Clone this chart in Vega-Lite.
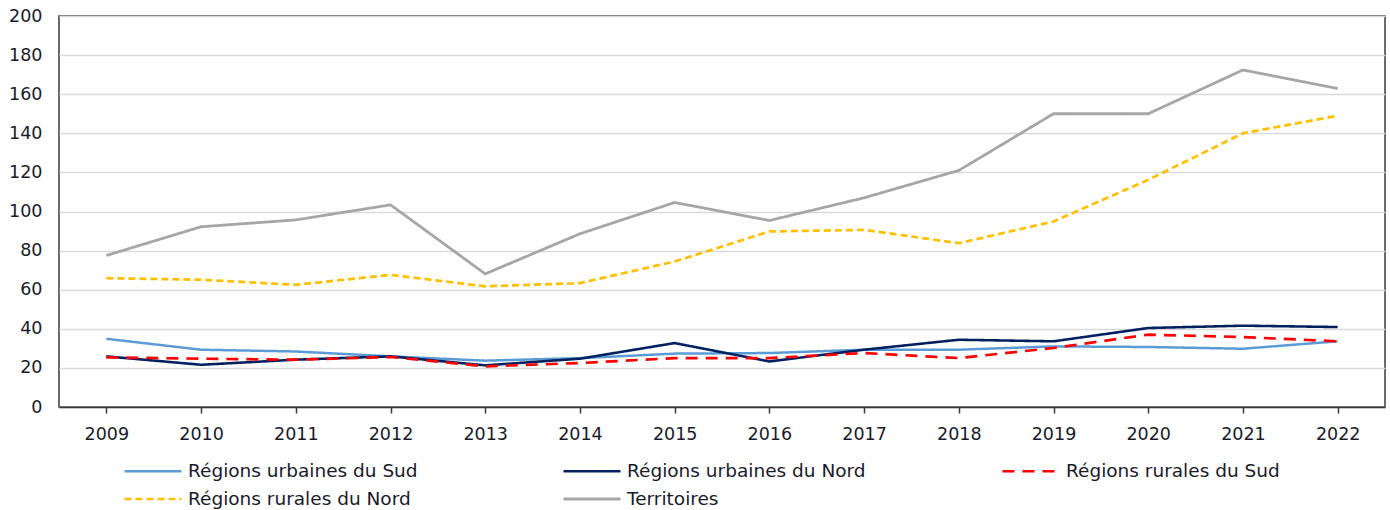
{
  "$schema": "https://vega.github.io/schema/vega-lite/v6.json",
  "width": 1326,
  "height": 391,
  "autosize": {"type": "none"},
  "padding": {"left": 59, "top": 16, "right": 5, "bottom": 103},
  "background": "white",
  "config": {
    "font": "DejaVu Sans",
    "view": {"stroke": "#3a3a3a", "strokeWidth": 1.5},
    "axis": {"labelFont": "DejaVu Sans", "labelFontSize": 17.5, "labelColor": "#1a1a2a"}
  },
  "data": {"values": [
    {"year": "2009", "series": "Territoires", "value": 77.5},
    {"year": "2010", "series": "Territoires", "value": 92.2},
    {"year": "2011", "series": "Territoires", "value": 95.7},
    {"year": "2012", "series": "Territoires", "value": 103.4},
    {"year": "2013", "series": "Territoires", "value": 68.1},
    {"year": "2014", "series": "Territoires", "value": 88.6},
    {"year": "2015", "series": "Territoires", "value": 104.6},
    {"year": "2016", "series": "Territoires", "value": 95.4},
    {"year": "2017", "series": "Territoires", "value": 107},
    {"year": "2018", "series": "Territoires", "value": 121},
    {"year": "2019", "series": "Territoires", "value": 150},
    {"year": "2020", "series": "Territoires", "value": 150},
    {"year": "2021", "series": "Territoires", "value": 172.4},
    {"year": "2022", "series": "Territoires", "value": 162.9},
    {"year": "2009", "series": "Régions rurales du Nord", "value": 65.9},
    {"year": "2010", "series": "Régions rurales du Nord", "value": 65.1},
    {"year": "2011", "series": "Régions rurales du Nord", "value": 62.5},
    {"year": "2012", "series": "Régions rurales du Nord", "value": 67.6},
    {"year": "2013", "series": "Régions rurales du Nord", "value": 61.7},
    {"year": "2014", "series": "Régions rurales du Nord", "value": 63.4},
    {"year": "2015", "series": "Régions rurales du Nord", "value": 74.4},
    {"year": "2016", "series": "Régions rurales du Nord", "value": 89.8},
    {"year": "2017", "series": "Régions rurales du Nord", "value": 90.6},
    {"year": "2018", "series": "Régions rurales du Nord", "value": 83.8},
    {"year": "2019", "series": "Régions rurales du Nord", "value": 94.9},
    {"year": "2020", "series": "Régions rurales du Nord", "value": 116.2},
    {"year": "2021", "series": "Régions rurales du Nord", "value": 140},
    {"year": "2022", "series": "Régions rurales du Nord", "value": 149},
    {"year": "2009", "series": "Régions urbaines du Sud", "value": 34.9},
    {"year": "2010", "series": "Régions urbaines du Sud", "value": 29.3},
    {"year": "2011", "series": "Régions urbaines du Sud", "value": 28.4},
    {"year": "2012", "series": "Régions urbaines du Sud", "value": 25.9},
    {"year": "2013", "series": "Régions urbaines du Sud", "value": 23.7},
    {"year": "2014", "series": "Régions urbaines du Sud", "value": 25},
    {"year": "2015", "series": "Régions urbaines du Sud", "value": 27.3},
    {"year": "2016", "series": "Régions urbaines du Sud", "value": 27.6},
    {"year": "2017", "series": "Régions urbaines du Sud", "value": 29.3},
    {"year": "2018", "series": "Régions urbaines du Sud", "value": 29.3},
    {"year": "2019", "series": "Régions urbaines du Sud", "value": 31},
    {"year": "2020", "series": "Régions urbaines du Sud", "value": 30.7},
    {"year": "2021", "series": "Régions urbaines du Sud", "value": 29.8},
    {"year": "2022", "series": "Régions urbaines du Sud", "value": 33.6},
    {"year": "2009", "series": "Régions urbaines du Nord", "value": 25.9},
    {"year": "2010", "series": "Régions urbaines du Nord", "value": 21.6},
    {"year": "2011", "series": "Régions urbaines du Nord", "value": 24.2},
    {"year": "2012", "series": "Régions urbaines du Nord", "value": 25.9},
    {"year": "2013", "series": "Régions urbaines du Nord", "value": 21.3},
    {"year": "2014", "series": "Régions urbaines du Nord", "value": 24.7},
    {"year": "2015", "series": "Régions urbaines du Nord", "value": 32.7},
    {"year": "2016", "series": "Régions urbaines du Nord", "value": 23.3},
    {"year": "2017", "series": "Régions urbaines du Nord", "value": 29.3},
    {"year": "2018", "series": "Régions urbaines du Nord", "value": 34.4},
    {"year": "2019", "series": "Régions urbaines du Nord", "value": 33.6},
    {"year": "2020", "series": "Régions urbaines du Nord", "value": 40.4},
    {"year": "2021", "series": "Régions urbaines du Nord", "value": 41.6},
    {"year": "2022", "series": "Régions urbaines du Nord", "value": 40.9},
    {"year": "2009", "series": "Régions rurales du Sud", "value": 25.4},
    {"year": "2010", "series": "Régions rurales du Sud", "value": 24.7},
    {"year": "2011", "series": "Régions rurales du Sud", "value": 24.2},
    {"year": "2012", "series": "Régions rurales du Sud", "value": 25.6},
    {"year": "2013", "series": "Régions rurales du Sud", "value": 20.8},
    {"year": "2014", "series": "Régions rurales du Sud", "value": 22.5},
    {"year": "2015", "series": "Régions rurales du Sud", "value": 25},
    {"year": "2016", "series": "Régions rurales du Sud", "value": 25},
    {"year": "2017", "series": "Régions rurales du Sud", "value": 27.6},
    {"year": "2018", "series": "Régions rurales du Sud", "value": 25},
    {"year": "2019", "series": "Régions rurales du Sud", "value": 30.2},
    {"year": "2020", "series": "Régions rurales du Sud", "value": 37},
    {"year": "2021", "series": "Régions rurales du Sud", "value": 35.8},
    {"year": "2022", "series": "Régions rurales du Sud", "value": 33.6}
  ]},
  "mark": {"type": "line", "strokeCap": "butt"},
  "encoding": {
    "x": {
      "field": "year", "type": "ordinal", "sort": null,
      "scale": {"type": "point", "padding": 0.5},
      "axis": {"title": null, "labelAngle": 0, "grid": false, "domain": true, "domainColor": "#3a3a3a", "domainWidth": 1.5,
               "ticks": true, "tickColor": "#3a3a3a", "tickSize": 6, "tickWidth": 1.5, "labelPadding": 12}
    },
    "y": {
      "field": "value", "type": "quantitative",
      "scale": {"domain": [0, 200], "nice": false, "zero": true},
      "axis": {"title": null, "values": [0, 20, 40, 60, 80, 100, 120, 140, 160, 180, 200], "grid": true, "gridColor": "#d9d9d9", "gridWidth": 1.5,
               "ticks": false, "domain": false, "labelPadding": 17, "labelFlush": false}
    },
    "color": {
      "field": "series", "type": "nominal",
      "scale": {
        "domain": ["Régions urbaines du Sud", "Régions urbaines du Nord", "Régions rurales du Sud", "Régions rurales du Nord", "Territoires"],
        "range": ["#5b9bd5", "#002060", "#ff0000", "#ffc000", "#a6a6a6"]
      },
      "legend": {
        "title": null, "orient": "none", "legendX": 83, "legendY": 444, "direction": "horizontal", "columns": 3,
        "gridAlign": "all", "columnPadding": 130, "rowPadding": 7, "padding": 0,
        "symbolType": "M-3,0H3", "symbolSize": 361, "labelFont": "DejaVu Sans", "labelFontSize": 18.5, "labelColor": "#1a1a2a",
        "labelOffset": 24, "labelLimit": 400
      }
    },
    "strokeDash": {
      "field": "series", "type": "nominal",
      "scale": {
        "domain": ["Régions urbaines du Sud", "Régions urbaines du Nord", "Régions rurales du Sud", "Régions rurales du Nord", "Territoires"],
        "range": [[1, 0], [1, 0], [12, 8], [7, 4], [1, 0]]
      },
      "legend": null
    },
    "strokeWidth": {
      "field": "series", "type": "nominal",
      "scale": {
        "domain": ["Régions urbaines du Sud", "Régions urbaines du Nord", "Régions rurales du Sud", "Régions rurales du Nord", "Territoires"],
        "range": [2.5, 2.8, 3, 3, 2.2]
      },
      "legend": null
    }
  }
}
